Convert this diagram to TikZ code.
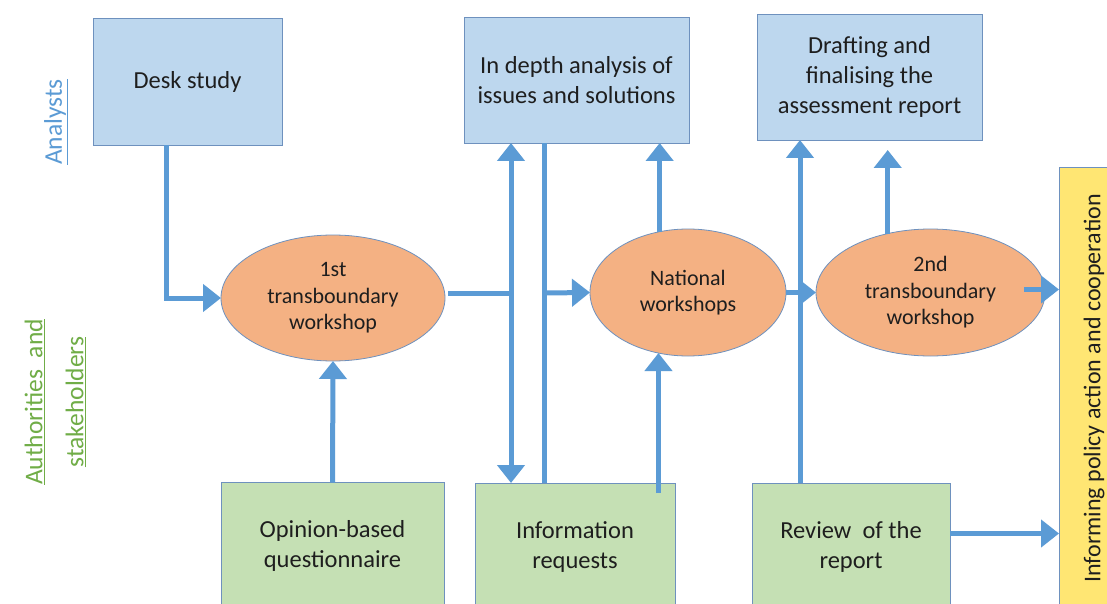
\documentclass[tikz,border=0pt]{standalone}
\usepackage{fontspec}
\setmainfont{Carlito}
\usetikzlibrary{shapes.geometric,arrows.meta,calc}
\definecolor{boxblue}{RGB}{189,215,238}
\definecolor{boxgreen}{RGB}{197,224,180}
\definecolor{ellorange}{RGB}{244,177,131}
\definecolor{boxyellow}{RGB}{255,230,115}
\definecolor{edge}{RGB}{110,145,190}
\definecolor{arrowblue}{RGB}{91,155,213}
\definecolor{labgreen}{RGB}{112,173,71}
\definecolor{txt}{RGB}{30,30,30}
\begin{document}
\begin{tikzpicture}[x=1pt,y=-1pt,
  box/.style={draw=edge, line width=0.8pt, inner sep=0pt, outer sep=0pt, align=center, text=txt, font=\fontsize{24.5}{30}\selectfont},
  bluebox/.style={box, fill=boxblue},
  greenbox/.style={box, fill=boxgreen},
  yellowbox/.style={box, fill=boxyellow},
  oval/.style={ellipse, draw=edge, line width=0.8pt, fill=ellorange, inner sep=0pt, outer sep=0pt, align=center, text=txt, font=\fontsize{22}{26.5}\selectfont},
  lane/.style={rotate=90, inner sep=0pt, align=center, font=\fontsize{25.5}{30}\selectfont},
  flow/.style={draw=arrowblue, line width=5pt},
  arr/.style={flow, -{Triangle[width=27pt,length=18pt]}},
  darr/.style={flow, {Triangle[width=27pt,length=18pt]}-{Triangle[width=27pt,length=18pt]}},
]
\useasboundingbox (0,0) rectangle (1107,604);
\fill[white] (0,0) rectangle (1107,604);

% lane labels
\node[lane, text=arrowblue] (analysts) at (56,122) {\underline{Analysts}};
\node[lane, text=labgreen] (auth) at (55,402) {\underline{Authorities\ \ and}\\[11pt]\underline{stakeholders}};

% boxes
\node[bluebox, minimum width=189pt, minimum height=127pt] (desk) at (187.5,81.5) {Desk study};
\node[bluebox, minimum width=225pt, minimum height=126pt] (indepth) at (576.5,80) {In depth analysis of\\issues and solutions};
\node[bluebox, minimum width=225pt, minimum height=126pt] (draft) at (869.5,77) {Drafting and\\finalising the\\assessment report};
\node[greenbox, minimum width=223pt, minimum height=127pt] (opinion) at (332.5,546) {Opinion-based\\questionnaire};
\node[greenbox, minimum width=200pt, minimum height=127pt] (info) at (575,546.5) {Information\\requests};
\node[greenbox, minimum width=198pt, minimum height=127pt] (review) at (851,546.5) {Review\ \ of the\\report};
\node[yellowbox, font=\fontsize{24}{30}\selectfont, minimum width=70pt, minimum height=443pt] (policy) at (1094,388.5) {\rotatebox{90}{Informing policy action and cooperation}};

% workshops
\node[oval, minimum width=224pt, minimum height=126pt] (ws1) at (333,298) {1st\\transboundary\\workshop};
\node[oval, minimum width=196pt, minimum height=127pt] (nat) at (688,292.5) {National\\workshops};
\node[oval, minimum width=229pt, minimum height=127pt] (ws2) at (930.5,292.5) {2nd\\transboundary\\workshop};

% columns
\coordinate (c166) at (166,0);
\coordinate (cA) at (511,0);
\coordinate (cB) at (544,0);
\coordinate (cD) at (800,0);

% connectors
\draw[arr] (desk.south -| c166) |- (ws1.west);
\draw[arr] (opinion.north) -- (ws1.south);
\coordinate (j1) at ([xshift=3pt,yshift=5pt]ws1.east);
\draw[flow] (j1) -- (j1 -| cA);
\draw[darr] (indepth.south -| cA) -- (info.north -| cA);
\draw[flow] (indepth.south -| cB) -- (info.north -| cB);
\draw[arr] (j1 -| cB) -- (nat.west);
\draw[arr] (nat.115.6) -- (indepth.south -| nat.115.6);
\coordinate (i1) at ([yshift=-10pt]info.north);
\draw[arr] (i1 -| nat.244.4) -- (nat.244.4);
\draw[arr] (nat.east) -- (ws2.west);
\draw[arr] (review.north -| cD) -- (draft.south -| cD);
\coordinate (d1) at ([yshift=-10pt]draft.south);
\draw[arr] (ws2.126.5) -- (d1 -| ws2.126.5);
\coordinate (w1) at ([xshift=-21pt,yshift=3pt]ws2.east);
\draw[arr] (w1) -- (w1 -| policy.west);
\coordinate (r1) at ([yshift=13pt]review.east);
\draw[arr] (r1) -- (r1 -| policy.west);
\end{tikzpicture}
\end{document}
